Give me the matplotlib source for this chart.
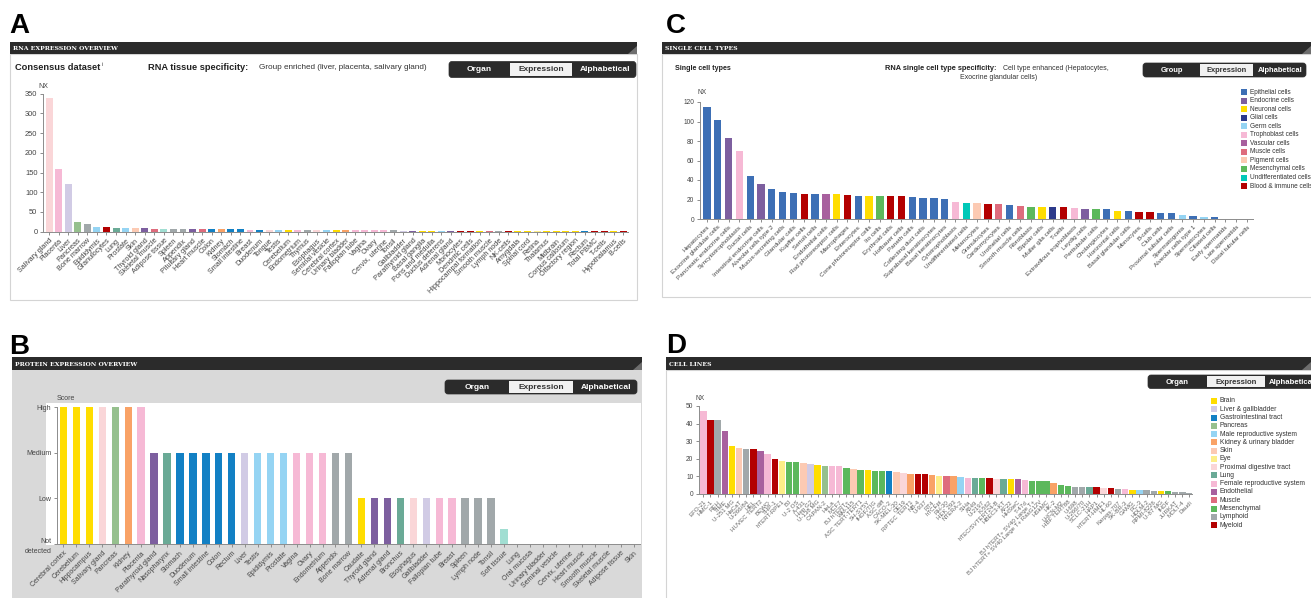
import matplotlib
matplotlib.use("Agg")
import matplotlib.pyplot as plt
from matplotlib.patches import Rectangle, FancyBboxPatch, Polygon

plt.rcParams['font.family'] = ['Liberation Sans', 'DejaVu Sans']

# ---------------- colours (HPA palette) ----------------
PAL = {
    'BR': '#ffdd00', 'EYE': '#fdee88', 'EN': '#7d5f9f', 'LU': '#6aaa96',
    'PD': '#fad6d8', 'GI': '#1280c4', 'LI': '#d1cbe5', 'PA': '#96c08e',
    'KI': '#f9a266', 'MA': '#95d4f3', 'FE': '#f6b9d5', 'MU': '#de6c7d',
    'AD': '#a1ded2', 'SK': '#fccab3', 'LY': '#a1a8aa', 'BL': '#b30000',
    'VA': '#a8609e', 'ME': '#5cb85c',
    'EP': '#3d6fb5', 'GLI': '#2c3a8a', 'UND': '#00c8b8', 'TRO': '#f6b9d5',
}

# ---------------- Panel A data ----------------
a_tissues = ["Salivary gland", "Placenta", "Liver", "Pancreas", "Bone marrow", "Epididymis",
             "Granulocytes", "Lung", "Prostate", "Skin", "Thyroid gland", "Skeletal muscle",
             "Adipose tissue", "Spleen", "Appendix", "Pituitary gland", "Heart muscle", "Colon",
             "Kidney", "Stomach", "Small intestine", "Breast", "Duodenum", "Tongue", "Testis",
             "Cerebellum", "Endometrium", "Thymus", "Esophagus", "Seminal vesicle",
             "Cerebral cortex", "Urinary bladder", "Fallopian tube", "Vagina", "Ovary",
             "Cervix, uterine", "Tonsil", "Gallbladder", "Parathyroid gland", "Basal ganglia",
             "Pons and medulla", "Ductus deferens", "Adrenal gland", "Monocytes",
             "Dendritic cells", "Hippocampal formation", "Smooth muscle", "Lymph node",
             "NK-cells", "Amygdala", "Spinal cord", "Retina", "Thalamus", "Midbrain",
             "Corpus callosum", "Olfactory region", "Rectum", "Total PBMC", "T-cells",
             "Hypothalamus", "B-cells"]
a_nx = [340, 160, 120, 24, 19, 11, 11, 10, 9, 8.5, 8.5, 8, 7.5, 7, 7, 7, 6.5, 6, 6, 6,
        6, 5.5, 5.5, 5, 5, 4.5, 4.5, 4.5, 4, 4, 4, 4, 3.5, 3.5, 3.5, 3.5, 3.5, 3, 3, 3,
        3, 3, 3, 3, 3, 3, 2.5, 2.5, 2.5, 2.5, 2.5, 2.5, 2, 2, 2, 2, 2, 2, 1.5, 1.5, 1.5]
a_groups = ['PD', 'FE', 'LI', 'PA', 'LY', 'MA', 'BL', 'LU', 'MA', 'SK', 'EN', 'MU', 'AD', 'LY',
            'LY', 'EN', 'MU', 'GI', 'KI', 'GI', 'GI', 'FE', 'GI', 'PD', 'MA', 'BR', 'FE', 'LY',
            'PD', 'MA', 'BR', 'KI', 'FE', 'FE', 'FE', 'FE', 'LY', 'LI', 'EN', 'BR', 'BR', 'MA',
            'EN', 'BL', 'BL', 'BR', 'MU', 'LY', 'BL', 'BR', 'BR', 'EYE', 'BR', 'BR', 'BR', 'BR',
            'GI', 'BL', 'BL', 'BR', 'BL']

# ---------------- Panel B data ----------------
b_tissues = ["Cerebral cortex", "Cerebellum", "Hippocampus", "Salivary gland", "Pancreas",
             "Kidney", "Placenta", "Parathyroid gland", "Nasopharynx", "Stomach", "Duodenum",
             "Small intestine", "Colon", "Rectum", "Liver", "Testis", "Epididymis", "Prostate",
             "Vagina", "Ovary", "Endometrium", "Appendix", "Bone marrow", "Caudate",
             "Thyroid gland", "Adrenal gland", "Bronchus", "Esophagus", "Gallbladder",
             "Fallopian tube", "Breast", "Spleen", "Lymph node", "Tonsil", "Soft tissue",
             "Lung", "Oral mucosa", "Urinary bladder", "Seminal vesicle", "Cervix, uterine",
             "Heart muscle", "Smooth muscle", "Skeletal muscle", "Adipose tissue", "Skin"]
b_score = [3, 3, 3, 3, 3, 3, 3,
           2, 2, 2, 2, 2, 2, 2, 2, 2, 2, 2, 2, 2, 2, 2, 2,
           1, 1, 1, 1, 1, 1, 1, 1, 1, 1, 1,
           0.33, 0, 0, 0, 0, 0, 0, 0, 0, 0, 0]
b_groups = ['BR', 'BR', 'BR', 'PD', 'PA', 'KI', 'FE', 'EN', 'LU', 'GI', 'GI', 'GI', 'GI', 'GI',
            'LI', 'MA', 'MA', 'MA', 'FE', 'FE', 'FE', 'LY', 'LY', 'BR', 'EN', 'EN', 'LU', 'PD',
            'LI', 'FE', 'FE', 'LY', 'LY', 'LY', 'AD', 'LU', 'PD', 'KI', 'MA', 'FE', 'MU', 'MU',
            'MU', 'AD', 'SK']
b_levels = ["Not\ndetected", "Low", "Medium", "High"]

# ---------------- Panel C data ----------------
c_cells = ["Hepatocytes", "Exocrine glandular cells", "Pancreatic endocrine cells",
           "Syncytiotrophoblasts", "Ductal cells", "Intestinal endocrine cells",
           "Alveolar cells type 2", "Mucus-secreting cells", "Glandular cells", "Kupffer cells",
           "Sertoli cells", "Endothelial cells", "Rod photoreceptor cells", "Macrophages",
           "Enterocytes", "Cone photoreceptor cells", "Ito cells", "Erythroid cells",
           "Hofbauer cells", "Paneth cells", "Collecting duct cells", "Suprabasal keratinocytes",
           "Basal keratinocytes", "Cytotrophoblasts", "Undifferentiated cells", "Melanocytes",
           "Granulocytes", "Cardiomyocytes", "Urothelial cells", "Smooth muscle cells",
           "Fibroblasts", "Bipolar cells", "Muller glia cells", "T-cells",
           "Extravillous trophoblasts", "Leydig cells", "Peritubular cells", "Cholangiocytes",
           "Horizontal cells", "Basal glandular cells", "Monocytes", "B-cells", "Club cells",
           "Proximal tubular cells", "Spermatogonia", "Alveolar cells type 1", "Spermatocytes",
           "Ciliated cells", "Early spermatids", "Late spermatids", "Distal tubular cells"]
c_nx = [115, 102, 83, 70, 44, 36, 31, 27.5, 26.5, 26, 25.8, 25.4, 25.2, 24.4, 24, 23.8, 23.6,
        23.5, 23.2, 22.4, 22, 21.5, 20.3, 17.5, 16.6, 16, 15.6, 15.2, 14, 13.2, 12.5, 12, 12,
        11.8, 11.3, 10.6, 10.5, 10.4, 8.5, 8, 7.5, 7, 6, 5.8, 4, 3.4, 2.4, 1.7, 0, 0, 0]
c_groups = ['EP', 'EP', 'EN', 'TRO', 'EP', 'EN', 'EP', 'EP', 'EP', 'BL', 'EP', 'VA', 'BR', 'BL',
            'EP', 'BR', 'ME', 'BL', 'BL', 'EP', 'EP', 'EP', 'EP', 'TRO', 'UND', 'SK', 'BL', 'MU',
            'EP', 'MU', 'ME', 'BR', 'GLI', 'BL', 'TRO', 'EN', 'ME', 'EP', 'BR', 'EP', 'BL', 'BL',
            'EP', 'EP', 'MA', 'EP', 'MA', 'EP', 'MA', 'MA', 'EP']
c_legend = ["Epithelial cells", "Endocrine cells", "Neuronal cells", "Glial cells", "Germ cells",
            "Trophoblast cells", "Vascular cells", "Muscle cells", "Pigment cells",
            "Mesenchymal cells", "Undifferentiated cells", "Blood & immune cells"]
c_legend_groups = ['EP', 'EN', 'BR', 'GLI', 'MA', 'TRO', 'VA', 'MU', 'SK', 'ME', 'UND', 'BL']

# ---------------- Panel D data ----------------
d_lines = ["EFO-21", "HMC-1", "REH", "TIME", "U-251 MG", "HaCaT", "U-266/84", "HEL",
           "HUVEC TERT2", "BEWO", "THP-1", "hTERT-RPE1", "BJ", "U-2 OS", "A-431", "Hep G2",
           "U-138 MG", "CAPAN-2", "HeLa", "MCF7", "BJ hTERT+", "WM-115", "ASC TERT-TERT1",
           "SH-SY5Y", "fHDF/TIG", "ASC diff", "CACO-2", "SK-MEL-30", "OE19", "RPTEC TERT1",
           "NB-4", "U-937", "RT4", "hTCEpi", "RH-30", "HEK 293", "NTERA-2", "SiHa", "A549",
           "U-2197", "K-562", "hTEC/SVTERT24-B", "HBEC3-KT", "AF22", "HHSteC", "T-47d",
           "BJ hTERT+ SV40 Large T+", "BJ hTERT+ SV40 Large T+ RasG12V", "HSkMC", "HK-2",
           "LHCN-M2", "HBF TERT88", "U-698", "U-266/70", "SCLC-21H", "HAP1", "hTERT-HME1",
           "HL-60", "Karpas-707", "SK-BR-3", "GAMG", "PC-3", "HDLM-2", "RPMI-8226", "U-87 MG",
           "fHDF", "JURKAT", "MOLT-4", "Daudi"]
d_nx = [47.4, 42, 42, 35.8, 27, 26.4, 25.7, 25.7, 24.2, 22.8, 19.8, 18.7, 18.3, 18.3, 17.4, 17,
        16.6, 16, 16, 15.8, 14.7, 14.4, 13.8, 13.4, 13.2, 13, 13, 12.6, 12, 11.6, 11.4, 11.4,
        10.8, 10.4, 10.2, 10, 9.5, 9.3, 9.1, 9.1, 9.1, 8.8, 8.6, 8.5, 8.4, 8.2, 7.6, 7.6, 7.6,
        6.3, 5.0, 4.8, 4.1, 4.1, 3.9, 3.8, 3.4, 3.4, 2.8, 2.7, 2.5, 2.5, 2.1, 1.9, 1.9, 1.5,
        1.1, 0.9, 0.8]
d_groups = ['FE', 'BL', 'LY', 'VA', 'BR', 'SK', 'LY', 'BL', 'VA', 'FE', 'BL', 'EYE', 'ME', 'ME',
            'SK', 'LI', 'BR', 'PA', 'FE', 'FE', 'ME', 'SK', 'ME', 'BR', 'ME', 'ME', 'GI', 'SK',
            'PD', 'KI', 'BL', 'BL', 'KI', 'EYE', 'MU', 'KI', 'MA', 'FE', 'LU', 'ME', 'BL', 'PD',
            'LU', 'BR', 'VA', 'FE', 'ME', 'ME', 'ME', 'KI', 'ME', 'ME', 'LY', 'LY', 'LU', 'BL',
            'PD', 'BL', 'LY', 'FE', 'BR', 'MA', 'LY', 'LY', 'BR', 'ME', 'LY', 'LY', 'LY']
d_legend = ["Brain", "Liver & gallbladder", "Gastrointestinal tract", "Pancreas",
            "Male reproductive system", "Kidney & urinary bladder", "Skin", "Eye",
            "Proximal digestive tract", "Lung", "Female reproductive system", "Endothelial",
            "Muscle", "Mesenchymal", "Lymphoid", "Myeloid"]
d_legend_groups = ['BR', 'LI', 'GI', 'PA', 'MA', 'KI', 'SK', 'EYE', 'PD', 'LU', 'FE', 'VA',
                   'MU', 'ME', 'LY', 'BL']

# ---------------- figure & helpers ----------------
W, H = 1311, 598
fig = plt.figure(figsize=(W / 100, H / 100), dpi=100)
bg = fig.add_axes([0, 0, 1, 1])
bg.set_xlim(0, W)
bg.set_ylim(H, 0)
bg.axis('off')
bg.set_zorder(0)


def px_axes(l, t, r, b):
    ax = fig.add_axes([l / W, 1 - b / H, (r - l) / W, (b - t) / H])
    ax.set_zorder(2)
    ax.patch.set_alpha(0)
    return ax


def header(x0, x1, y0, y1, title):
    bg.add_patch(Rectangle((x0, y0), x1 - x0, y1 - y0, fc='#2b2b2b', ec='none'))
    bg.text(x0 + 3, (y0 + y1) / 2 + 0.5, title, color='white', fontsize=4.4,
            fontweight='bold', va='center', ha='left', family='DejaVu Serif')
    bg.add_patch(Polygon([[x1 - 9, y1], [x1, y1], [x1, y1 - 8]], fc='#6e6e6e', ec='none'))


def buttons(x0, x1, y0, y1, labels, s1, s2, fs, clip_right=None):
    bg.add_patch(FancyBboxPatch((x0, y0), x1 - x0, y1 - y0,
                                boxstyle='round,pad=0,rounding_size=3',
                                fc='#2b2b2b', ec='#2b2b2b', lw=0.5))
    bg.add_patch(Rectangle((s1, y0 + 1.2), s2 - s1, y1 - y0 - 2.4, fc='#f1f1f1', ec='none'))
    ym = (y0 + y1) / 2 + 0.3
    bg.text((x0 + s1) / 2, ym, labels[0], color='white', fontsize=fs, fontweight='bold',
            ha='center', va='center')
    bg.text((s1 + s2) / 2, ym, labels[1], color='#333333', fontsize=fs, fontweight='bold',
            ha='center', va='center')
    if clip_right is None:
        bg.text((s2 + x1) / 2 + 1, ym, labels[2], color='white', fontsize=fs, fontweight='bold',
                ha='center', va='center')
    else:
        bg.text(s2 + 4, ym, labels[2], color='white', fontsize=fs, fontweight='bold',
                ha='left', va='center')


def style(ax, fs):
    for s in ['top', 'right']:
        ax.spines[s].set_visible(False)
    for s in ['left', 'bottom']:
        ax.spines[s].set_color('#8c8c8c')
        ax.spines[s].set_linewidth(0.7)
    ax.tick_params(axis='both', length=2.5, width=0.7, color='#8c8c8c', labelsize=fs,
                   labelcolor='#444444', pad=1.5)


def xlabels(ax, names, fs, color='#444444'):
    ax.set_xticks(range(len(names)))
    ax.set_xticklabels(names, rotation=45, ha='right', va='top', rotation_mode='anchor',
                       fontsize=fs, color=color)


# ---------------- panel letters ----------------
for letter, x, y in [('A', 9, 26), ('B', 9, 347), ('C', 666, 26), ('D', 666, 346)]:
    bg.text(x, y, letter, fontsize=20, fontweight='bold', ha='left', va='center', color='black')

# ================= Panel A =================
bg.add_patch(Rectangle((10, 54), 627, 246, fc='white', ec='#d4d4d4', lw=0.8))
header(10, 637, 42, 54, 'RNA EXPRESSION OVERVIEW')
bg.text(15, 67.5, 'Consensus dataset', fontsize=6.7, fontweight='bold', va='center', color='#222')
bg.text(101.5, 65, 'i', fontsize=3.5, va='center', color='#222')
bg.text(148, 67.5, 'RNA tissue specificity:', fontsize=6.7, fontweight='bold', va='center',
        color='#222')
bg.text(259, 67.5, 'Group enriched (liver, placenta, salivary gland)', fontsize=5.9, va='center',
        color='#333')
buttons(449, 636, 61.5, 77.5, ['Organ', 'Expression', 'Alphabetical'], 510, 572, 6.0)
bg.text(43, 86, 'NX', fontsize=5, ha='center', va='center', color='#444')

axA = px_axes(43, 93.7, 628, 231.7)
axA.bar(range(len(a_nx)), a_nx, width=0.73, color=[PAL[g] for g in a_groups])
axA.set_ylim(0, 350)
axA.set_xlim(-0.63, 60.5)
axA.set_yticks([0, 50, 100, 150, 200, 250, 300, 350])
style(axA, 5.4)
xlabels(axA, a_tissues, 5.2)

# ================= Panel B =================
bg.add_patch(Rectangle((12, 370), 630, 240, fc='#d9d9d9', ec='none'))
header(12, 642, 357, 370, 'PROTEIN EXPRESSION OVERVIEW')
bg.add_patch(Rectangle((46, 403), 595, 142, fc='white', ec='none'))
buttons(445, 637, 380, 394, ['Organ', 'Expression', 'Alphabetical'], 509, 573, 6.0)
bg.text(66, 398, 'Score', fontsize=5, ha='center', va='center', color='#444')

axB = px_axes(57, 407, 640, 544)
axB.bar(range(len(b_score)), b_score, width=0.56, color=[PAL[g] for g in b_groups])
axB.set_ylim(0, 3)
axB.set_xlim(-0.49, 44.5)
axB.set_yticks([0, 1, 2, 3])
axB.set_yticklabels(b_levels, linespacing=1.6)
style(axB, 5.0)
xlabels(axB, b_tissues, 5.0)

# ================= Panel C =================
bg.add_patch(Rectangle((662, 54), 660, 243, fc='white', ec='#d4d4d4', lw=0.8))
header(662, 1311, 42, 54, 'SINGLE CELL TYPES')
bg.text(675, 69, 'Single cell types', fontsize=5.1, fontweight='bold', va='center', color='#222')
bg.text(885, 69, 'RNA single cell type specificity:', fontsize=5.3, fontweight='bold',
        va='center', color='#222')
bg.text(1003, 69, 'Cell type enhanced (Hepatocytes,', fontsize=5.0, va='center', color='#333')
bg.text(960, 77.5, 'Exocrine glandular cells)', fontsize=5.0, va='center', color='#333')
buttons(1143, 1306, 63, 77, ['Group', 'Expression', 'Alphabetical'], 1200, 1253, 5.4)
bg.text(702, 92, 'NX', fontsize=4.8, ha='center', va='center', color='#444')
for i, (lab, g) in enumerate(zip(c_legend, c_legend_groups)):
    y = 92 + i * 8.55
    bg.add_patch(Rectangle((1241, y - 3), 6, 6, fc=PAL[g], ec='none'))
    bg.text(1249.5, y, lab, fontsize=4.7, va='center', ha='left', color='#333')

axC = px_axes(700, 102, 1253, 219)
axC.bar(range(len(c_nx)), c_nx, width=0.68, color=[PAL[g] for g in c_groups])
axC.set_ylim(0, 120)
axC.set_xlim(-0.65, 50.55)
axC.set_yticks([0, 20, 40, 60, 80, 100, 120])
style(axC, 4.8)
xlabels(axC, c_cells, 4.6)

# ================= Panel D =================
bg.add_patch(Rectangle((666, 370), 660, 240, fc='white', ec='#d4d4d4', lw=0.8))
header(666, 1311, 357, 370, 'CELL LINES')
buttons(1148, 1330, 375, 388.5, ['Organ', 'Expression', 'Alphabetical'], 1207, 1265, 5.6,
        clip_right=True)
bg.text(700, 398, 'NX', fontsize=4.8, ha='center', va='center', color='#444')
for i, (lab, g) in enumerate(zip(d_legend, d_legend_groups)):
    y = 401 + i * 8.27
    bg.add_patch(Rectangle((1211, y - 3), 6, 6, fc=PAL[g], ec='none'))
    bg.text(1219.5, y, lab, fontsize=4.85, va='center', ha='left', color='#333')

axD = px_axes(699, 406, 1192, 494)
axD.bar(range(len(d_nx)), d_nx, width=0.9, color=[PAL[g] for g in d_groups])
axD.set_ylim(0, 50)
axD.set_xlim(-0.6, 68.35)
axD.set_yticks([0, 10, 20, 30, 40, 50])
style(axD, 4.8)
xlabels(axD, d_lines, 4.4, color='#666666')

fig.savefig('out.png', dpi=100)
